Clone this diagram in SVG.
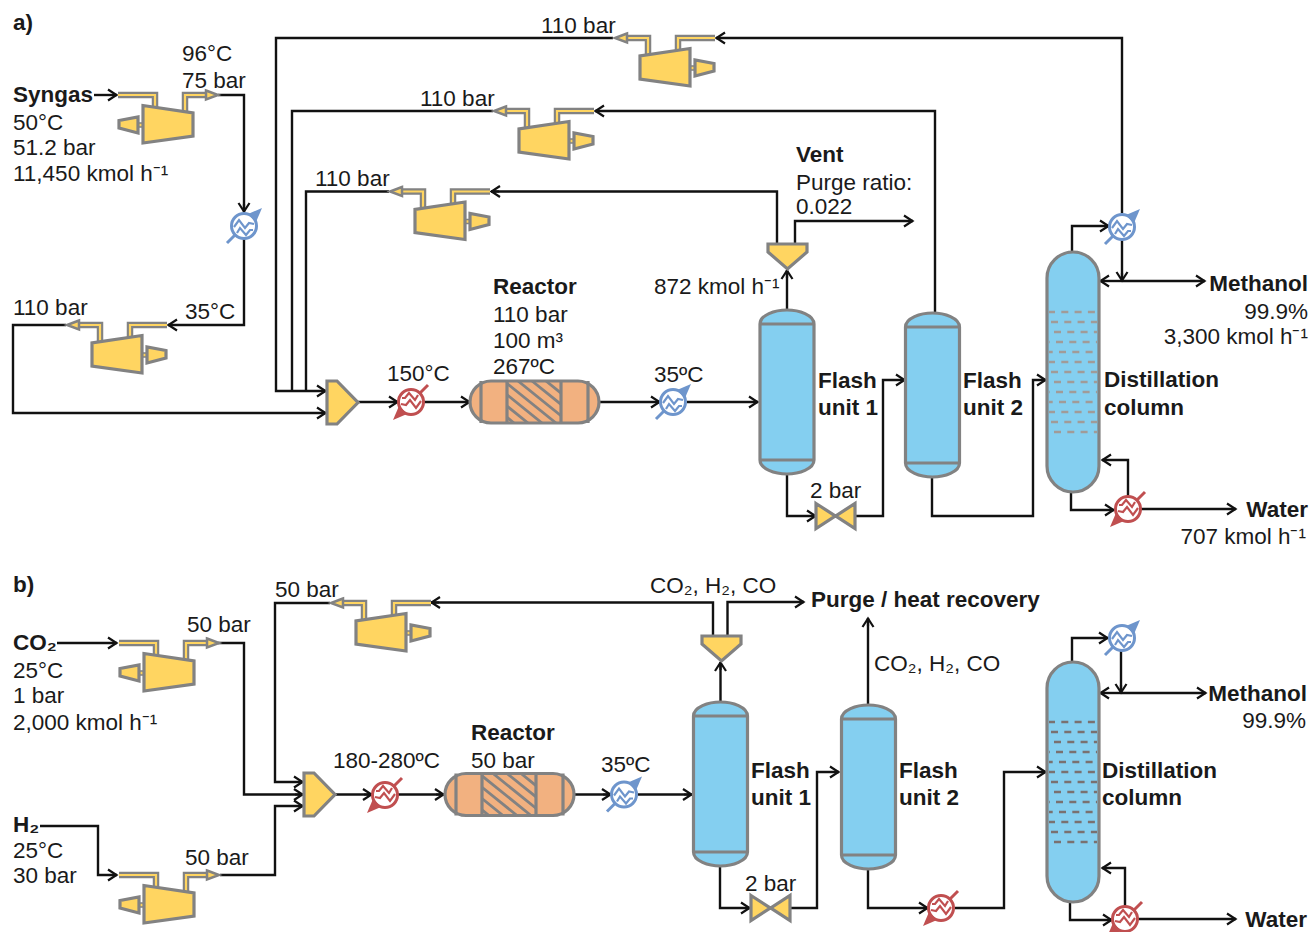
<svg xmlns="http://www.w3.org/2000/svg" xmlns:xlink="http://www.w3.org/1999/xlink" width="1311" height="932" viewBox="0 0 1311 932">
<style>
text{font-family:"Liberation Sans",Arial,sans-serif;font-size:22.5px;fill:#1a1a1a}
.b{font-weight:700}
.e{text-anchor:end}
.ln{fill:none;stroke:#111;stroke-width:2.4;stroke-linejoin:miter}
.ar{marker-end:url(#ah)}
.gy{stroke:#828282;stroke-width:3.2;stroke-linejoin:miter}
.yl{fill:#FFD561}
.bl{fill:#84CFF0}
.or{fill:#F2B180}
.cool{color:#6E95CC}
.heat{color:#C04F50}
.d1{stroke:#A19B98;stroke-width:2.5;stroke-dasharray:7 6.3;fill:none}
.d2{stroke:#7A7170;stroke-width:2.5;stroke-dasharray:7 6.3;fill:none}
</style>
<defs>
<marker id="ah" markerUnits="userSpaceOnUse" markerWidth="16" markerHeight="16" refX="13" refY="8" orient="auto"><path d="M4,2.500 L12.500,8 L4,13.500 M5,8 H12" fill="none" stroke="#111" stroke-width="2.200"/></marker>
<g id="comp">
<path d="M0,0H37V14M67,16V0H88" fill="none" stroke="#828282" stroke-width="6.500"/>
<path d="M0,0H37V14M67,16V0H91" fill="none" stroke="#FFD561" stroke-width="2.200"/>
<path d="M88,-4.500L100,0L88,4.500Z" fill="#FFD561" stroke="#828282" stroke-width="2.500"/>
<rect x="20" y="28" width="5" height="4" fill="#FFD561" stroke="#828282" stroke-width="1.500"/>
<path d="M25,10.500L75,18V41L25,48Z" class="yl gy"/>
<path d="M1,25.500L20,22V38L1,33Z" class="yl gy"/>
</g>
<g id="hx">
<circle r="12.500" fill="#fff" stroke="currentColor" stroke-width="3"/>
<path d="M-10,1L-5,-6L1,2L5,-3L10,-2M-7,7L-4,2L2,9L6,4L9,4" fill="none" stroke="currentColor" stroke-width="2.200"/>
<path d="M-17,17L-9,9M9,-9L11,-11" stroke="currentColor" stroke-width="3" fill="none"/>
<path d="M18,-18L4,-12L12,-4Z" fill="currentColor"/>
</g>
<g id="flash">
<path d="M0,14C0,5 15,0 27,0C39,0 54,5 54,14V150C54,159 39,164 27,164C15,164 0,159 0,150Z" class="bl gy"/>
<path d="M0,14H54M0,150H54" class="gy" fill="none"/>
</g>
<clipPath id="rc"><rect x="37" y="0" width="54" height="42"/></clipPath>
<g id="reactor">
<rect x="0" y="0" width="129" height="42" rx="21" class="or gy"/>
<g clip-path="url(#rc)"><path d="M-8,0L44,42M6,0L58,42M20,0L72,42M34,0L86,42M48,0L100,42M62,0L114,42M76,0L128,42" stroke="#828282" stroke-width="2.800" fill="none"/></g>
<path d="M11,0V42M37,0V42M91,0V42M118,0V42" class="gy" fill="none"/>
</g>
<g id="column">
<rect x="0" y="0" width="52" height="240" rx="26" class="bl gy"/>
</g>
<path id="mixer" d="M0,0H10L31,21.500L10,43H0Z" class="yl gy"/>
<path id="splitter" d="M0,0H39V8L19.500,25L0,8Z" class="yl gy"/>
<path id="valve" d="M0,0L19.500,12.500L39,0V25L19.500,12.500L0,25Z" class="yl gy"/>
</defs>

<g id="connectors">
<path class="ln ar" d="M94,95H117"/>
<path class="ln ar" d="M218,95H244V212"/>
<path class="ln ar" d="M244,239V325H168"/>
<path class="ln ar" d="M66,325H13V413H326"/>
<path class="ln ar" d="M613,38H276V391H326"/>
<path class="ln" d="M493,111H292V391"/>
<path class="ln" d="M389,191.500H306V391"/>
<path class="ln ar" d="M358,402H398"/>
<path class="ln ar" d="M424,402H470"/>
<path class="ln ar" d="M599,402H660"/>
<path class="ln ar" d="M687,402H758"/>
<path class="ln ar" d="M787,310V270"/>
<path class="ln ar" d="M777,244V191.500H491"/>
<path class="ln ar" d="M795,244V221H913"/>
<path class="ln ar" d="M787,474V516H816"/>
<path class="ln ar" d="M855,516H883V380H905"/>
<path class="ln ar" d="M935,313V111H595"/>
<path class="ln ar" d="M932,477V516H1033V380H1046"/>
<path class="ln ar" d="M1072,252V226H1109"/>
<path class="ln ar" d="M1122,213V38H716"/>
<path class="ln ar" d="M1122,240V281"/>
<path class="ln ar" d="M1122,281H1100"/>
<path class="ln ar" d="M1122,281H1205"/>
<path class="ln ar" d="M1071,492V510H1114"/>
<path class="ln ar" d="M1128,496V460H1102"/>
<path class="ln ar" d="M1141,509H1236"/>

<path class="ln ar" d="M57,643H117"/>
<path class="ln ar" d="M218,643H244V794.500H303"/>
<path class="ln ar" d="M330,603H275V782H303"/>
<path class="ln ar" d="M40,826H98V875H117"/>
<path class="ln ar" d="M220,875H275V806H303"/>
<path class="ln ar" d="M334,794.500H372"/>
<path class="ln ar" d="M398,794.500H444"/>
<path class="ln ar" d="M574,794.500H611"/>
<path class="ln ar" d="M638,794.500H692"/>
<path class="ln ar" d="M720.500,702V662"/>
<path class="ln ar" d="M713,636V602.500H431"/>
<path class="ln ar" d="M727.500,636V602H804"/>
<path class="ln ar" d="M868,705V618"/>
<path class="ln ar" d="M720,866V908H750"/>
<path class="ln ar" d="M790,908H817V772H839"/>
<path class="ln ar" d="M868,869V908H928"/>
<path class="ln ar" d="M955,908H1004V772H1046"/>
<path class="ln ar" d="M1072,662V638H1108"/>
<path class="ln ar" d="M1121,650V693"/>
<path class="ln ar" d="M1121,693H1100"/>
<path class="ln ar" d="M1121,693H1206"/>
<path class="ln ar" d="M1070,902V920H1112"/>
<path class="ln ar" d="M1125,906V868H1102"/>
<path class="ln ar" d="M1138,919H1236"/>
</g>

<g id="label-a"><text x="13" y="30" class="b">a)</text></g>
<g id="label-b"><text x="13" y="592" class="b">b)</text></g>

<g id="feed-syngas"><text x="13" y="102" class="b">Syngas</text><text x="13" y="130">50°C</text><text x="13" y="155">51.2 bar</text><text x="13" y="181">11,450 kmol h⁻¹</text></g>
<g id="comp-a1"><use href="#comp" transform="translate(118,95)"/><text x="182" y="61">96°C</text><text x="182" y="88">75 bar</text></g>
<g id="hx-a1"><use href="#hx" class="cool" transform="translate(244,226)"/></g>
<g id="comp-a2"><use href="#comp" transform="translate(167,325) scale(-1,1)"/><text x="13" y="315">110 bar</text></g>
<g id="label-a-35"><text x="185" y="319">35°C</text></g>
<g id="comp-a3"><use href="#comp" transform="translate(715,38) scale(-1,1)"/><text x="541" y="33">110 bar</text></g>
<g id="comp-a4"><use href="#comp" transform="translate(594,111) scale(-1,1)"/><text x="420" y="106">110 bar</text></g>
<g id="comp-a5"><use href="#comp" transform="translate(490,191.500) scale(-1,1)"/><text x="315" y="186">110 bar</text></g>
<g id="mixer-a"><use href="#mixer" transform="translate(327,381)"/></g>
<g id="hx-a2"><use href="#hx" class="heat" transform="translate(411,402) rotate(180)"/><text x="387" y="381">150°C</text></g>
<g id="reactor-a"><use href="#reactor" transform="translate(470,381)"/><text x="493" y="294" class="b">Reactor</text><text x="493" y="322">110 bar</text><text x="493" y="348">100 m³</text><text x="493" y="374">267ºC</text></g>
<g id="hx-a3"><use href="#hx" class="cool" transform="translate(673,402)"/><text x="654" y="382">35ºC</text></g>
<g id="splitter-a"><use href="#splitter" transform="translate(768,244)"/><text x="654" y="294">872 kmol h⁻¹</text></g>
<g id="vent"><text x="796" y="162" class="b">Vent</text><text x="796" y="190">Purge ratio:</text><text x="796" y="214">0.022</text></g>
<g id="flash-a1"><use href="#flash" transform="translate(760,310)"/><text x="818" y="388" class="b">Flash</text><text x="818" y="415" class="b">unit 1</text></g>
<g id="valve-a"><use href="#valve" transform="translate(816,503.500)"/><text x="810" y="498">2 bar</text></g>
<g id="flash-a2"><use href="#flash" transform="translate(905.500,313)"/><text x="963" y="388" class="b">Flash</text><text x="963" y="415" class="b">unit 2</text></g>
<g id="column-a"><use href="#column" transform="translate(1047,252)"/>
<path class="d1" d="M1049,312H1097" stroke-dashoffset="1"/><path class="d1" d="M1049,322H1097" stroke-dashoffset="11.300"/><path class="d1" d="M1049,332H1097" stroke-dashoffset="8.300"/><path class="d1" d="M1049,342H1097" stroke-dashoffset="6.300"/><path class="d1" d="M1049,352H1097" stroke-dashoffset="3.300"/><path class="d1" d="M1049,362H1097" stroke-dashoffset="1"/><path class="d1" d="M1049,372H1097" stroke-dashoffset="11.300"/><path class="d1" d="M1049,382H1097" stroke-dashoffset="8.300"/><path class="d1" d="M1049,392H1097" stroke-dashoffset="6.300"/><path class="d1" d="M1049,402H1097" stroke-dashoffset="3.300"/><path class="d1" d="M1049,412H1097" stroke-dashoffset="1"/><path class="d1" d="M1049,422H1097" stroke-dashoffset="11.300"/><path class="d1" d="M1049,432H1097" stroke-dashoffset="8.300"/>
<text x="1104" y="387" class="b">Distillation</text><text x="1104" y="415" class="b">column</text></g>
<g id="hx-a4"><use href="#hx" class="cool" transform="translate(1122,227)"/></g>
<g id="hx-a5"><use href="#hx" class="heat" transform="translate(1128,509) rotate(180)"/></g>
<g id="methanol-a"><text x="1308" y="291" class="b e">Methanol</text><text x="1308" y="319" class="e">99.9%</text><text x="1308" y="344" class="e">3,300 kmol h⁻¹</text></g>
<g id="water-a"><text x="1308" y="517" class="b e">Water</text><text x="1306" y="544" class="e">707 kmol h⁻¹</text></g>

<g id="feed-co2"><text x="13" y="650" class="b">CO₂</text><text x="13" y="678">25°C</text><text x="13" y="703">1 bar</text><text x="13" y="730">2,000 kmol h⁻¹</text></g>
<g id="feed-h2"><text x="13" y="832" class="b">H₂</text><text x="13" y="858">25°C</text><text x="13" y="883">30 bar</text></g>
<g id="comp-b1"><use href="#comp" transform="translate(119,643)"/><text x="187" y="632">50 bar</text></g>
<g id="comp-b2"><use href="#comp" transform="translate(119,875)"/><text x="185" y="865">50 bar</text></g>
<g id="comp-b3"><use href="#comp" transform="translate(431,603) scale(-1,1)"/><text x="275" y="597">50 bar</text></g>
<g id="mixer-b"><use href="#mixer" transform="translate(304,773)"/></g>
<g id="hx-b1"><use href="#hx" class="heat" transform="translate(385,795) rotate(180)"/><text x="333" y="768">180-280ºC</text></g>
<g id="reactor-b"><use href="#reactor" transform="translate(445,773.500)"/><text x="471" y="740" class="b">Reactor</text><text x="471" y="768">50 bar</text></g>
<g id="hx-b2"><use href="#hx" class="cool" transform="translate(624,794.500)"/><text x="601" y="772">35ºC</text></g>
<g id="splitter-b"><use href="#splitter" transform="translate(702,636)"/><text x="650" y="593">CO₂, H₂, CO</text></g>
<g id="purge"><text x="811" y="607" class="b">Purge / heat recovery</text><text x="874" y="671">CO₂, H₂, CO</text></g>
<g id="flash-b1"><use href="#flash" transform="translate(693.500,702)"/><text x="751" y="778" class="b">Flash</text><text x="751" y="805" class="b">unit 1</text></g>
<g id="valve-b"><use href="#valve" transform="translate(751,895.500)"/><text x="745" y="891">2 bar</text></g>
<g id="flash-b2"><use href="#flash" transform="translate(841.500,705)"/><text x="899" y="778" class="b">Flash</text><text x="899" y="805" class="b">unit 2</text></g>
<g id="hx-b3"><use href="#hx" class="heat" transform="translate(941,908) rotate(180)"/></g>
<g id="column-b"><use href="#column" transform="translate(1047,662)"/>
<path class="d2" d="M1049,722H1097" stroke-dashoffset="1"/><path class="d2" d="M1049,732H1097" stroke-dashoffset="11.300"/><path class="d2" d="M1049,742H1097" stroke-dashoffset="8.300"/><path class="d2" d="M1049,752H1097" stroke-dashoffset="6.300"/><path class="d2" d="M1049,762H1097" stroke-dashoffset="3.300"/><path class="d2" d="M1049,772H1097" stroke-dashoffset="1"/><path class="d2" d="M1049,782H1097" stroke-dashoffset="11.300"/><path class="d2" d="M1049,792H1097" stroke-dashoffset="8.300"/><path class="d2" d="M1049,802H1097" stroke-dashoffset="6.300"/><path class="d2" d="M1049,812H1097" stroke-dashoffset="3.300"/><path class="d2" d="M1049,822H1097" stroke-dashoffset="1"/><path class="d2" d="M1049,832H1097" stroke-dashoffset="11.300"/><path class="d2" d="M1049,842H1097" stroke-dashoffset="8.300"/>
<text x="1102" y="778" class="b">Distillation</text><text x="1102" y="805" class="b">column</text></g>
<g id="hx-b4"><use href="#hx" class="cool" transform="translate(1122,638)"/></g>
<g id="hx-b5"><use href="#hx" class="heat" transform="translate(1125,919) rotate(180)"/></g>
<g id="methanol-b"><text x="1307" y="701" class="b e">Methanol</text><text x="1306" y="728" class="e">99.9%</text></g>
<g id="water-b"><text x="1307" y="927" class="b e">Water</text></g>
</svg>
